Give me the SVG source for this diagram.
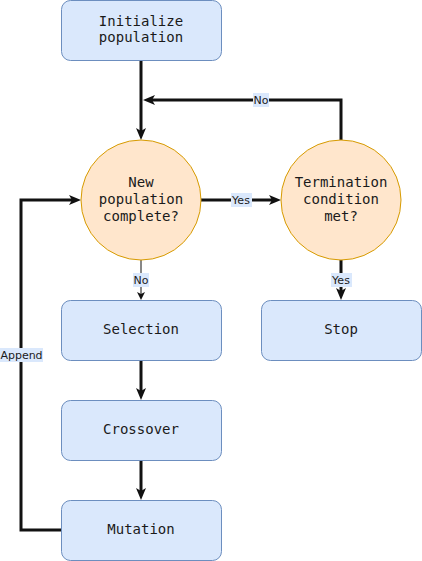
<svg xmlns="http://www.w3.org/2000/svg" width="422" height="561" viewBox="0 0 422 561">
<style>
.box{fill:#dae8fc;stroke:#6c8ebf;stroke-width:1}
.dec{fill:#ffe6cc;stroke:#d79b00;stroke-width:1}
.t{font-family:"DejaVu Sans Mono","Liberation Mono",monospace;font-size:14px;fill:#1a1a1a;text-anchor:middle}
.e{fill:none;stroke:#111;stroke-width:3}
.et{fill:none;stroke:#111;stroke-width:1}
.lb{fill:#dae8fc}
.lt{font-family:"DejaVu Sans","Liberation Sans",sans-serif;font-size:11px;fill:#1a1a1a;text-anchor:middle}
</style>
<defs>
<marker id="ah" markerUnits="userSpaceOnUse" markerWidth="12" markerHeight="10" refX="4" refY="5" orient="auto" overflow="visible">
<path d="M0,0 L12,5 L0,10 L3,5 Z" fill="#111"/>
</marker>
<marker id="ahs" markerUnits="userSpaceOnUse" markerWidth="8" markerHeight="8" refX="2" refY="4" orient="auto" overflow="visible">
<path d="M0,0 L8,4 L0,8 L2,4 Z" fill="#111"/>
</marker>
</defs>
<g id="connectors">
<path class="e" d="M141,60.5 V132" marker-end="url(#ah)"/>
<path class="e" d="M341,140 V100 H151" marker-end="url(#ah)"/>
<path class="e" d="M201,200 H273" marker-end="url(#ah)"/>
<path class="et" d="M141,260 V294" marker-end="url(#ahs)"/>
<path class="e" d="M341,260 V292" marker-end="url(#ah)"/>
<path class="e" d="M141,360.5 V392" marker-end="url(#ah)"/>
<path class="e" d="M141,460.5 V492" marker-end="url(#ah)"/>
<path class="e" d="M61.5,530 H21 V200 H73" marker-end="url(#ah)"/>
<g id="labels">
<rect class="lb" x="253" y="93" width="16" height="14"/>
<text class="lt" x="261" y="104">No</text>
<rect class="lb" x="231" y="193" width="21" height="14"/>
<text class="lt" x="241" y="204">Yes</text>
<rect class="lb" x="133" y="273" width="16" height="14"/>
<text class="lt" x="141" y="284">No</text>
<rect class="lb" x="331" y="273" width="21" height="14"/>
<text class="lt" x="341" y="284">Yes</text>
<rect class="lb" x="0" y="348" width="43" height="14"/>
<text class="lt" x="21.5" y="359">Append</text>
</g>
</g>
<g id="init">
<rect class="box" x="61.5" y="0.5" width="160" height="60" rx="9"/>
<text class="t" x="141" y="26">Initialize</text>
<text class="t" x="141" y="42">population</text>
</g>
<g id="newpop">
<circle class="dec" cx="141" cy="200" r="60"/>
<text class="t" x="141" y="187">New</text>
<text class="t" x="141" y="204">population</text>
<text class="t" x="141" y="221">complete?</text>
</g>
<g id="term">
<circle class="dec" cx="341" cy="200" r="60"/>
<text class="t" x="341" y="187">Termination</text>
<text class="t" x="341" y="204">condition</text>
<text class="t" x="341" y="221">met?</text>
</g>
<g id="selection">
<rect class="box" x="61.5" y="300.5" width="160" height="60" rx="9"/>
<text class="t" x="141" y="334">Selection</text>
</g>
<g id="stop">
<rect class="box" x="261.5" y="300.5" width="160" height="60" rx="9"/>
<text class="t" x="341" y="334">Stop</text>
</g>
<g id="crossover">
<rect class="box" x="61.5" y="400.5" width="160" height="60" rx="9"/>
<text class="t" x="141" y="434">Crossover</text>
</g>
<g id="mutation">
<rect class="box" x="61.5" y="500.5" width="160" height="60" rx="9"/>
<text class="t" x="141" y="534">Mutation</text>
</g>
</svg>
